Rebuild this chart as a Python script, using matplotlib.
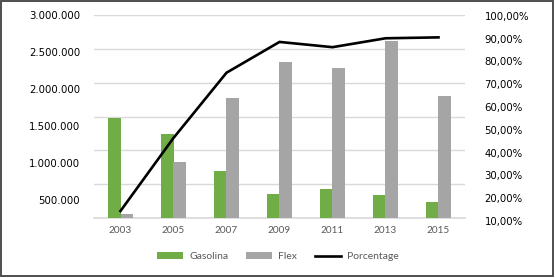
import matplotlib
matplotlib.use("Agg")
import matplotlib.pyplot as plt
import numpy as np
from matplotlib.patches import Rectangle
from matplotlib.ticker import FuncFormatter

years = ["2003", "2005", "2007", "2009", "2011", "2013", "2015"]
gasolina = [1480000, 1240000, 695000, 355000, 425000, 340000, 230000]
flex = [55000, 830000, 1770000, 2300000, 2220000, 2610000, 1800000]
porcentage = [0.144, 0.464, 0.750, 0.885, 0.862, 0.901, 0.905]
left_labels = [500000, 1000000, 1500000, 2000000, 2500000, 3000000]
right_labels = [0.1, 0.2, 0.3, 0.4, 0.5, 0.6, 0.7, 0.8, 0.9, 1.0]

GREEN = "#70AD47"
GRAY = "#A5A5A5"
GRID = "#D9D9D9"
TXT = "#595959"

W, H = 555, 278
fig = plt.figure(figsize=(W / 100, H / 100), dpi=100)

def px_axes(left, top, right, bottom, **kw):
    return fig.add_axes([left / W, 1 - bottom / H, (right - left) / W, (bottom - top) / H], **kw)

# main bar axes
ax = px_axes(94, 15, 465, 218)
x = np.arange(len(years))
bw = 0.236
ax.bar(x - bw / 2, gasolina, bw, color=GREEN, label="Gasolina", zorder=3)
ax.bar(x + bw / 2, flex, bw, color=GRAY, label="Flex", zorder=3)
ax.set_xlim(-0.5, len(years) - 0.5)
ax.set_ylim(0, 3000000)
ax.set_yticks(np.arange(0, 3000001, 500000))
ax.yaxis.grid(True, color=GRID, linewidth=1.0, zorder=0)
ax.tick_params(axis="y", length=0, labelleft=False)
for s in ["top", "right", "left"]:
    ax.spines[s].set_visible(False)
ax.spines["bottom"].set_color(GRID)
ax.spines["bottom"].set_linewidth(1.2)
ax.set_xticks(x)
ax.set_xticklabels(years, fontsize=7.2, color=TXT, family=["Lato", "DejaVu Sans"])
ax.tick_params(axis="x", length=0, pad=6)

# left label axis (labels as rendered in the reference)
axl = px_axes(94, 15, 465, 218, sharex=ax)
axl.patch.set_visible(False)
for s in axl.spines.values():
    s.set_visible(False)
axl.set_ylim(257000, 3000000)
axl.set_yticks(left_labels)
axl.yaxis.set_major_formatter(FuncFormatter(lambda v, p: f"{int(round(v)):,}".replace(",", ".")))
axl.tick_params(axis="y", length=0, pad=10, labelsize=7.3, labelcolor="black")
axl.tick_params(axis="x", bottom=False, labelbottom=False)

# right percentage axis
ax2 = px_axes(94, 15.7, 465, 221, sharex=ax)
ax2.patch.set_visible(False)
for s in ax2.spines.values():
    s.set_visible(False)
ax2.plot(x, porcentage, color="black", linewidth=1.9, label="Porcentage", zorder=4,
         solid_joinstyle="miter")
ax2.set_ylim(0.1, 1.0)
ax2.set_yticks(right_labels)
ax2.yaxis.tick_right()
ax2.yaxis.set_major_formatter(FuncFormatter(lambda v, p: f"{v*100:.2f}".replace(".", ",") + "%"))
ax2.tick_params(axis="y", length=0, pad=14, labelsize=7.3, labelcolor="black")
ax2.tick_params(axis="x", bottom=False, labelbottom=False)
for lab in ax2.get_yticklabels():
    lab.set_horizontalalignment("left")

h1, l1 = ax.get_legend_handles_labels()
h2, l2 = ax2.get_legend_handles_labels()
leg = fig.legend(h1 + h2, l1 + l2, loc="center", bbox_to_anchor=(278 / W, 1 - 256.7 / H),
                 ncol=3, frameon=False, handlelength=2.5, handletextpad=0.6,
                 columnspacing=1.7, prop={"family": ["Lato", "DejaVu Sans"], "size": 7.5})
for t in leg.get_texts():
    t.set_color(TXT)

fig.patches.append(Rectangle((0.8 / W, 1 - 275.5 / H), 552 / W, 275 / H,
                             transform=fig.transFigure, fill=False,
                             edgecolor="#404040", linewidth=1.3))

fig.savefig("out.png", dpi=100)
